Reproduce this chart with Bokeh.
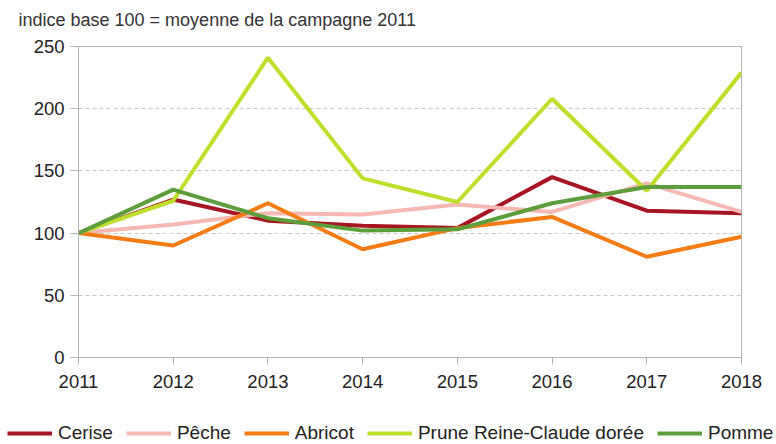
from bokeh.plotting import figure
from bokeh.models import Range1d, FixedTicker, Legend, LegendItem, Label
from bokeh.embed import file_html
from bokeh.resources import INLINE

years = [2011, 2012, 2013, 2014, 2015, 2016, 2017, 2018]
cerise = [100, 127, 110, 106, 104, 145, 118, 116]
peche = [100, 107, 116, 115, 123, 117, 140, 117]
abricot = [100, 90, 124, 87, 104, 113, 81, 97]
prune = [100, 126, 241, 144, 125, 208, 134, 229]
pomme = [100, 135, 112, 102, 103, 124, 137, 137]
y_ticks = [0, 50, 100, 150, 200, 250]

names = ["Cerise", "Pêche", "Abricot", "Prune Reine-Claude dorée", "Pomme"]
series = [cerise, peche, abricot, prune, pomme]
colors = ["#a81522", "#f7b8b3", "#f57c14", "#bfe02a", "#5c9e3c"]
title_text = "indice base 100 = moyenne de la campagne 2011"

FONT = "Liberation Sans"

# title strip (its own root so the text can sit exactly where the reference has it)
tt = figure(width=776, height=34, output_backend="svg", toolbar_location=None,
            x_range=Range1d(0, 776), y_range=Range1d(0, 34),
            min_border_left=0, min_border_right=0, min_border_top=0, min_border_bottom=0)
tt.axis.visible = False
tt.grid.visible = False
tt.outline_line_color = None
tt.add_layout(Label(x=18, y=15, text=title_text, text_font=FONT, text_font_size="18px",
                    text_color="#333333", text_baseline="middle", text_align="left"))

# main chart
p = figure(width=776, height=386, output_backend="svg", toolbar_location=None,
           x_range=Range1d(2011, 2018), y_range=Range1d(0, 250),
           min_border_left=78, min_border_right=35, min_border_top=12, min_border_bottom=63)

for vals, col in zip(series, colors):
    p.line(years, vals, line_color=col, line_width=4)

p.xaxis.ticker = FixedTicker(ticks=years)
p.yaxis.ticker = FixedTicker(ticks=y_ticks)
p.xgrid.visible = False
p.ygrid.grid_line_color = "#c8c8c8"
p.ygrid.grid_line_dash = "4 3"
p.outline_line_color = "#b3b3b3"

for ax in (p.xaxis, p.yaxis):
    ax.axis_line_color = "#b3b3b3"
    ax.major_tick_line_color = "#b3b3b3"
    ax.minor_tick_line_color = None
    ax.major_tick_in = 0
    ax.major_label_text_color = "#222222"
    ax.major_label_text_font = FONT
    ax.major_label_text_font_size = "18.5px"

p.xaxis.major_tick_out = 7
p.yaxis.major_tick_out = 8
p.xaxis.major_label_standoff = 10
p.yaxis.major_label_standoff = 6

# legend strip below the chart (separate root so its frame spans the full width)
lg = figure(width=776, height=24, output_backend="svg", toolbar_location=None,
            x_range=Range1d(2011, 2018), y_range=Range1d(0, 1),
            min_border_left=0, min_border_right=0, min_border_top=0, min_border_bottom=0)
lg.axis.visible = False
lg.grid.visible = False
lg.outline_line_color = None

items = []
for name, vals, col in zip(names, series, colors):
    r = lg.line(years, vals, line_color=col, line_width=4)  # outside lg's y range: only its legend glyph shows
    items.append(LegendItem(label=name, renderers=[r]))

legend = Legend(items=items, orientation="horizontal", location=(7, 0),
                label_text_font=FONT, label_text_font_size="19px", label_text_color="#222222",
                glyph_width=45, glyph_height=20, spacing=13, label_standoff=6,
                border_line_color=None, background_fill_alpha=0, padding=0, margin=0)
lg.add_layout(legend)

open("out.html", "w").write(file_html([tt, p, lg], INLINE))
